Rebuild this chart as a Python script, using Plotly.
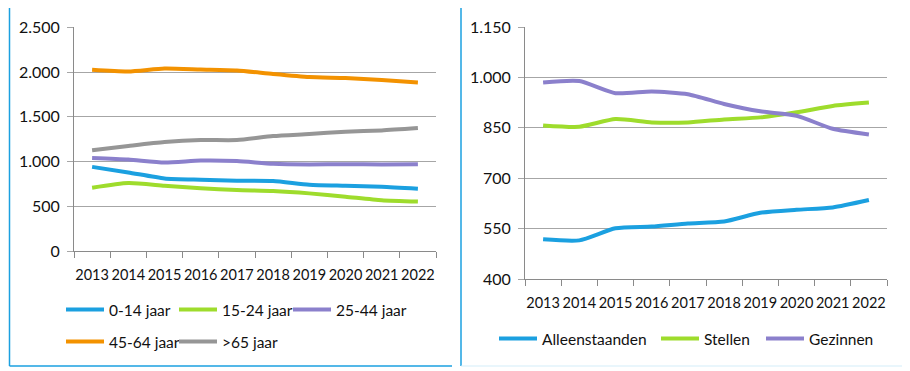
import plotly.graph_objects as go

years = ["2013", "2014", "2015", "2016", "2017", "2018", "2019", "2020", "2021", "2022"]

age_0_14 = [940, 878, 811, 796, 785, 781, 741, 729, 718, 696]
age_15_24 = [707, 759, 729, 700, 681, 670, 644, 607, 567, 552]
age_25_44 = [1040, 1022, 989, 1011, 1005, 974, 967, 970, 967, 970]
age_45_64 = [2026, 2007, 2040, 2029, 2018, 1978, 1944, 1933, 1911, 1884]
age_65_plus = [1126, 1174, 1218, 1240, 1240, 1285, 1307, 1333, 1348, 1374]

alleenstaanden = [518, 515, 551, 556, 565, 571, 597, 606, 613, 635]
stellen = [857, 853, 876, 866, 866, 875, 881, 896, 915, 925]
gezinnen = [985, 989, 953, 958, 950, 921, 899, 886, 847, 830]

left_ticks = [0, 500, 1000, 1500, 2000, 2500]
right_ticks = [400, 550, 700, 850, 1000, 1150]

BLUE = "#1ba0e0"
GREEN = "#9edc2c"
PURPLE = "#8b80cc"
ORANGE = "#f39200"
GRAY = "#969696"

FONT = "Lato, 'Liberation Sans', sans-serif"
TXT = "#111111"

# page body has an 8px margin: work in screen pixels and convert
OFF = 8
W, H = 910 - OFF, 371 - OFF


def px(x):
    return (x - OFF) / W


def py(y):
    return 1 - (y - OFF) / H


fig = go.Figure()


def add(y, name, color, xa, ya, legend):
    fig.add_trace(go.Scatter(
        x=years, y=y, name=name, mode="lines",
        line=dict(color=color, width=4, shape="spline", smoothing=0.6),
        xaxis=xa, yaxis=ya, legend=legend,
    ))


add(age_0_14, "0-14 jaar", BLUE, "x", "y", "legend")
add(age_15_24, "15-24 jaar", GREEN, "x", "y", "legend2")
add(age_25_44, "25-44 jaar", PURPLE, "x", "y", "legend3")
add(age_45_64, "45-64 jaar", ORANGE, "x", "y", "legend4")
add(age_65_plus, ">65 jaar", GRAY, "x", "y", "legend5")

add(alleenstaanden, "Alleenstaanden", BLUE, "x2", "y2", "legend6")
add(stellen, "Stellen", GREEN, "x2", "y2", "legend7")
add(gezinnen, "Gezinnen", PURPLE, "x2", "y2", "legend8")

xaxis_common = dict(
    type="category", range=[-0.5, 9.5], tickson="boundaries", tickangle=0,
    ticks="outside", ticklen=6, tickcolor="#8a8a8a", showline=True,
    linecolor="#8a8a8a", linewidth=1, showgrid=False, zeroline=False,
    tickfont=dict(family=FONT, size=14.5, color=TXT), fixedrange=True,
    automargin=False, ticklabelstandoff=11,
)
yaxis_common = dict(
    ticks="outside", ticklen=6, tickcolor="#a6a6a6", showline=True,
    linecolor="#8a8a8a", linewidth=1, showgrid=True, gridcolor="#a6a6a6",
    gridwidth=1, zeroline=False, tickformat=",d",
    tickfont=dict(family=FONT, size=16, color=TXT), fixedrange=True,
    automargin=False, ticklabelstandoff=4,
)

legend_common = dict(
    orientation="h", bgcolor="rgba(0,0,0,0)", borderwidth=0,
    font=dict(family=FONT, size=15.5, color=TXT), itemwidth=38,
    xanchor="left", yanchor="middle", traceorder="normal",
)


def leg(line_start, yc):
    return dict(x=px(line_start - 7), y=py(yc), **legend_common)


fig.update_layout(
    width=W, height=H, autosize=False,
    margin=dict(l=0, r=0, t=0, b=0, autoexpand=False),
    paper_bgcolor="white", plot_bgcolor="white",
    separators=",.",
    showlegend=True,
    xaxis=dict(domain=[px(74), px(436)], anchor="y", **xaxis_common),
    yaxis=dict(domain=[py(251), py(27.3)], anchor="x", range=[0, 2500],
               tickvals=left_ticks, **yaxis_common),
    xaxis2=dict(domain=[px(525), px(887)], anchor="y2", **xaxis_common),
    yaxis2=dict(domain=[py(279), py(27)], anchor="x2", range=[400, 1150],
                tickvals=right_ticks, **yaxis_common),
    legend=leg(68, 310),
    legend2=leg(181, 310),
    legend3=leg(295, 310),
    legend4=leg(68, 342),
    legend5=leg(181, 342),
    legend6=leg(501, 339),
    legend7=leg(663, 339),
    legend8=leg(768, 339),
)

# panel borders
shapes = [
    dict(type="line", xref="paper", yref="paper", x0=px(9.5), x1=px(9.5), y0=py(366), y1=py(7.5),
         line=dict(color=BLUE, width=1.5)),
    dict(type="line", xref="paper", yref="paper", x0=px(9.5), x1=px(452), y0=py(366), y1=py(366),
         line=dict(color=BLUE, width=1.5)),
    dict(type="line", xref="paper", yref="paper", x0=px(9.5), x1=px(450), y0=py(7.5), y1=py(7.5),
         line=dict(color="#c9e9f8", width=1)),
    dict(type="line", xref="paper", yref="paper", x0=px(461), x1=px(461), y0=py(366), y1=py(7.5),
         line=dict(color=BLUE, width=1.5)),
    dict(type="line", xref="paper", yref="paper", x0=px(461), x1=px(905), y0=py(7.5), y1=py(7.5),
         line=dict(color="#d3edf9", width=1)),
    dict(type="line", xref="paper", yref="paper", x0=px(461), x1=px(905), y0=py(366), y1=py(366),
         line=dict(color="#d3edf9", width=1)),
]
fig.update_layout(shapes=shapes)

fig.write_html("out.html")
